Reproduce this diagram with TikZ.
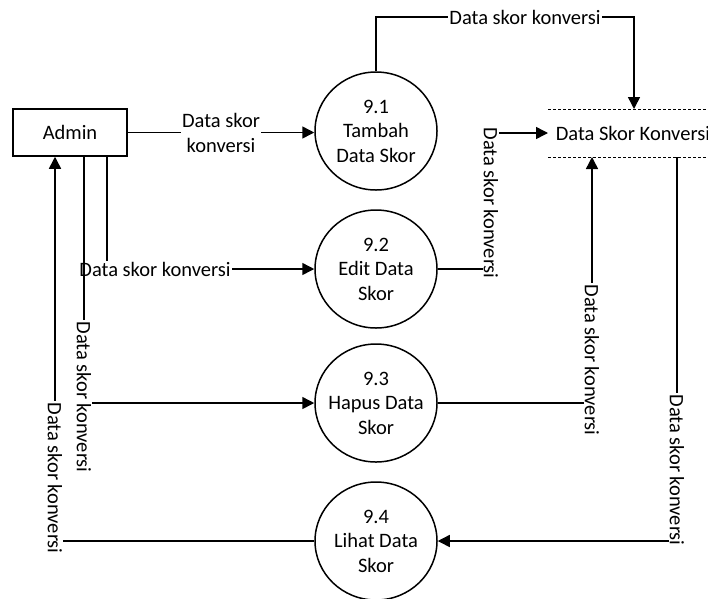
\documentclass[tikz,border=0pt]{standalone}
\usepackage{fontspec}
\setmainfont{Carlito}
\usetikzlibrary{arrows.meta,shapes.geometric}
\begin{document}
\begin{tikzpicture}[x=1pt,y=-1pt,line width=1.5pt,
  font=\fontsize{20.5}{24.5}\selectfont,
  proc/.style={draw,ellipse,minimum width=122pt,minimum height=118pt,align=center,inner xsep=-12pt,inner ysep=0pt},
  ent/.style={draw,minimum width=114pt,minimum height=47pt,inner sep=0pt},
  arr/.style={-{Triangle[length=12pt,width=12pt]}},
  lab/.style={fill=white,inner sep=1pt},
  vlab/.style={lab,rotate=-90},
  storeline/.style={line width=1pt,dash pattern=on 3pt off 2pt}]
\useasboundingbox (0,0) rectangle (708,598);
% nodes
\node[ent] (admin) at (70,132.5) {Admin};
\node[proc] (n91) at (376,131) {9.1\\Tambah\\Data Skor};
\node[proc] (n92) at (376,269) {9.2\\Edit Data\\Skor};
\node[proc] (n93) at (376,403) {9.3\\Hapus Data\\Skor};
\node[proc] (n94) at (376,541) {9.4\\Lihat Data\\Skor};
\node[anchor=west,inner sep=0pt] (store) at (555,133) {Data Skor Konversi};
\draw[storeline] (548,109) -- (720,109);
\draw[storeline] (548,157) -- (720,157);
\coordinate (stA) at (634,109);
\coordinate (stB) at (548,133);
\coordinate (stC) at (592,157);
\coordinate (stD) at (677,157);
% connectors
\draw[arr] (admin.east) -- (admin.east -| n91.west);
\node[lab,align=center] (l1) at (221,133) {Data skor\\konversi};
\draw[arr] (n91.north) -- (n91.north |- 0,17) -- (stA |- 0,17) -- (stA);
\node[lab] (l2) at (525,17) {Data skor konversi};
\draw[arr] ([xshift=37pt]admin.south) -- ([xshift=37pt]admin.south |- n92.west) -- (n92.west);
\node[lab] (l3) at (155,269) {Data skor konversi};
\draw[arr] (n92.east) -- (n92.east -| 491,0) -- (491,133) -- (stB);
\node[vlab] (l4) at (491,203) {Data skor konversi};
\draw[arr] ([xshift=14pt]admin.south) -- ([xshift=14pt]admin.south |- n93.west) -- (n93.west);
\node[vlab] (l5) at (84,397) {Data skor konversi};
\draw[arr] (n93.east) -- (n93.east -| stC) -- (stC);
\node[vlab] (l6) at (592,360) {Data skor konversi};
\draw[arr] (stD) -- (stD |- n94.east) -- (n94.east);
\node[vlab] (l7) at (677,470) {Data skor konversi};
\draw[arr] (n94.west) -- (n94.west -| 55,0) -- ([xshift=-15pt]admin.south);
\node[vlab] (l8) at (55,478) {Data skor konversi};
\end{tikzpicture}
\end{document}
